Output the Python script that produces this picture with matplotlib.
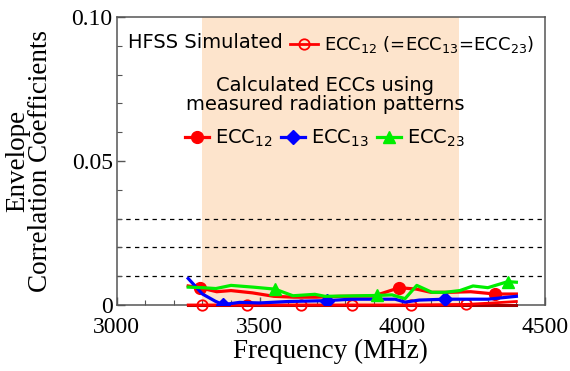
import matplotlib.pyplot as plt
from matplotlib.ticker import MultipleLocator, FixedLocator

# measured ECCs (from measured radiation patterns)
f12 = [3250, 3290, 3350, 3400, 3475, 3550, 3620, 3700, 3780, 3900, 3990, 4050, 4100, 4170, 4240, 4325, 4400]
ecc12 = [0.0066, 0.0060, 0.0046, 0.0050, 0.0042, 0.0030, 0.0027, 0.0027, 0.0030, 0.0031, 0.0060, 0.0055, 0.0044, 0.0044, 0.0046, 0.0038, 0.0038]
mk12 = [1, 10, 15]

f13 = [3250, 3300, 3345, 3372, 3430, 3500, 3600, 3736, 3820, 3900, 3975, 4010, 4060, 4150, 4300, 4400]
ecc13 = [0.0092, 0.0038, 0.0013, 0.0001, 0.0009, 0.0007, 0.0012, 0.0015, 0.0020, 0.0020, 0.0020, 0.0010, 0.0017, 0.0020, 0.0020, 0.0030]
mk13 = [3, 7, 13]

f23 = [3250, 3300, 3347, 3400, 3477, 3554, 3617, 3694, 3729, 3800, 3911, 3964, 4010, 4051, 4104, 4150, 4202, 4248, 4300, 4370, 4400]
ecc23 = [0.0062, 0.0060, 0.0057, 0.0068, 0.0062, 0.0055, 0.0032, 0.0037, 0.0030, 0.0031, 0.0033, 0.0035, 0.0022, 0.0068, 0.0044, 0.0044, 0.0050, 0.0066, 0.0060, 0.0081, 0.0079]
mk23 = [5, 10, 19]

# HFSS simulated
f_sim = [3250, 3298, 3455, 3645, 3824, 4030, 4225, 4300, 4400]
sim12 = [0.0, 0.0, 0.0, 0.0, 0.0, 0.0, 0.0002, 0.0006, 0.0012]
sim13 = [0.0, 0.0, 0.0, 0.0, 0.0, 0.0, 0.0, 0.0, 0.0]
mk_sim = [1, 2, 3, 4, 5, 6]

band = (3300, 4200)
ref_levels = [0.01, 0.02, 0.03]

plt.rcParams['font.family'] = 'Liberation Serif'
plt.rcParams['mathtext.fontset'] = 'dejavusans'

fig = plt.figure(figsize=(5.7, 3.71), dpi=100)
ax = fig.add_axes([0.205, 0.178, 0.751, 0.776])

ax.axvspan(band[0], band[1], color='#fde4cc', lw=0, zorder=0)
for lv in ref_levels:
    ax.axhline(lv, color='black', lw=0.9, ls=(0, (3.5, 3.5)), zorder=1)

ax.plot(f_sim, sim13, color='#a00000', lw=2.2, zorder=3, clip_on=False)
h_sim, = ax.plot(f_sim, sim12, color='red', lw=2.0, marker='o', ms=7.5, mfc='none',
                 mec='red', mew=1.3, markevery=mk_sim, zorder=4, clip_on=False)
h12, = ax.plot(f12, ecc12, color='red', lw=2.3, marker='o', ms=8.5, markevery=mk12, zorder=5)
h13, = ax.plot(f13, ecc13, color='blue', lw=2.3, marker='D', ms=7, markevery=mk13, zorder=5)
h23, = ax.plot(f23, ecc23, color='#00ee00', lw=2.3, marker='^', ms=8.5, markevery=mk23, zorder=6)

ax.set_xlim(3000, 4500)
ax.set_ylim(0, 0.1)
ax.xaxis.set_major_locator(FixedLocator([3000, 3500, 4000, 4500]))
ax.xaxis.set_minor_locator(MultipleLocator(100))
ax.yaxis.set_major_locator(FixedLocator([0, 0.05, 0.10]))
ax.yaxis.set_minor_locator(MultipleLocator(0.01))
ax.set_yticklabels(['0', '0.05', '0.10'])
ax.tick_params(which='both', direction='in', labelsize=17, color='#555555')
ax.tick_params(which='major', length=6, width=1)
ax.tick_params(which='minor', length=3.5, width=0.8)
ax.tick_params(axis='x', pad=9)
ax.tick_params(axis='y', pad=3)
for s in ax.spines.values():
    s.set_color('#555555')
    s.set_linewidth(1.1)

ax.set_xlabel('Frequency (MHz)', fontsize=19.5, labelpad=0)
ax.set_ylabel('Envelope\nCorrelation Coefficients', fontsize=19.5, linespacing=0.92)
ax.yaxis.set_label_coords(-0.148, 0.5)

sans = 'DejaVu Sans'
ax.text(0.026, 0.91, 'HFSS Simulated', transform=ax.transAxes, fontsize=14,
        family=sans, ha='left', va='center')
leg1 = ax.legend([h_sim], ['ECC$_{12}$ (=ECC$_{13}$=ECC$_{23}$)'], loc='center left',
                 bbox_to_anchor=(0.405, 0.905), frameon=False, borderpad=0, borderaxespad=0,
                 handlelength=1.55, handletextpad=0.3, prop={'family': sans, 'size': 13})
ax.add_artist(leg1)

leg2 = ax.legend([h12, h13, h23], ['ECC$_{12}$', 'ECC$_{13}$', 'ECC$_{23}$'], ncol=3,
                 loc='upper center', bbox_to_anchor=(0.486, 0.797), frameon=False,
                 borderpad=0, borderaxespad=0, handlelength=1.25, handletextpad=0.3,
                 columnspacing=0.4, labelspacing=0.7,
                 title='Calculated ECCs using\nmeasured radiation patterns',
                 prop={'family': sans, 'size': 14}, title_fontproperties={'family': sans, 'size': 14})
leg2.get_title().set_multialignment('center')
leg2.get_title().set_linespacing(1.05)

fig.savefig('out.png', dpi=100)
